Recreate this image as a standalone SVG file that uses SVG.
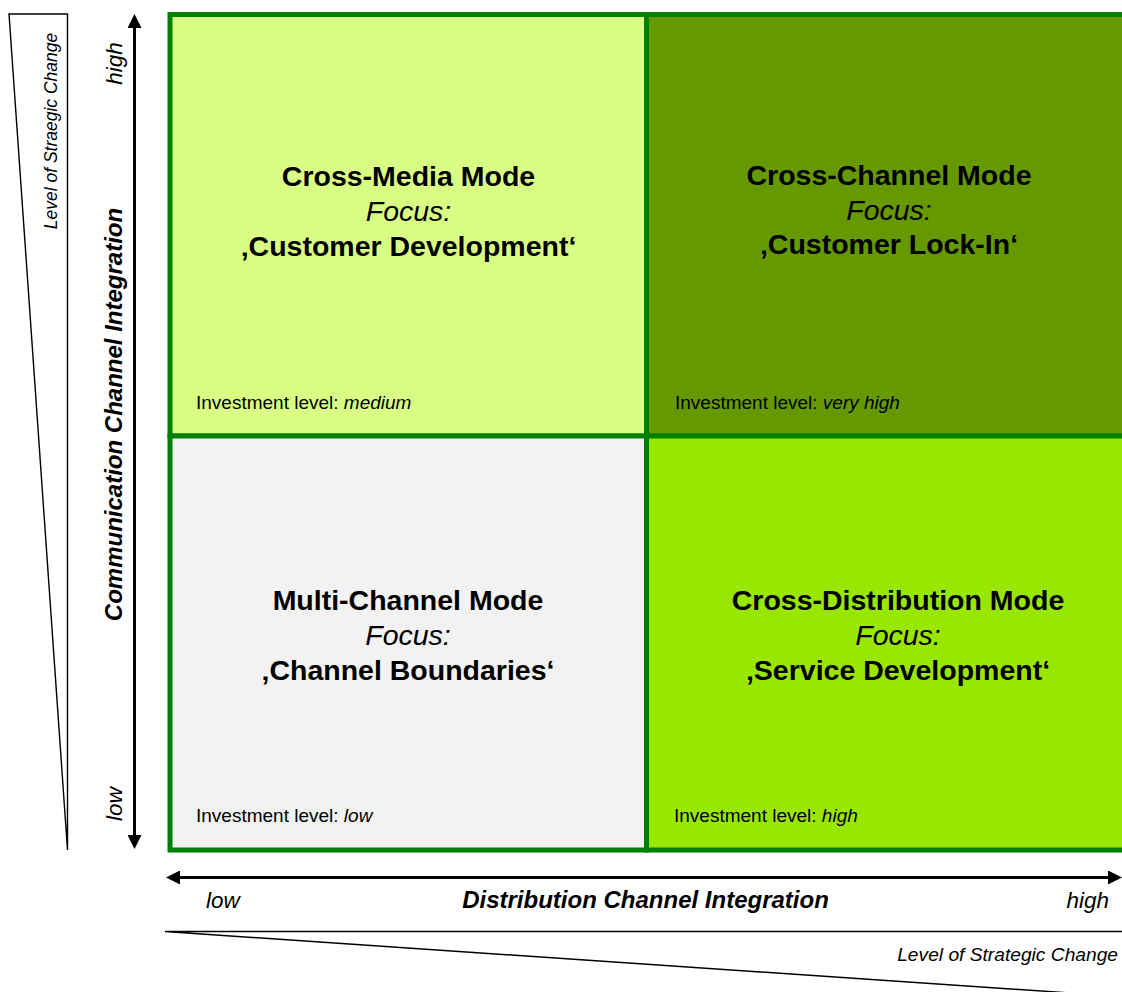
<svg xmlns="http://www.w3.org/2000/svg" width="1122" height="992" viewBox="0 0 1122 992">
  <style>
    text { font-family: "Liberation Sans", Arial, sans-serif; fill: #000; }
    .title { font-size: 28.5px; font-weight: bold; text-anchor: middle; }
    .focus { font-size: 28.5px; font-style: italic; text-anchor: middle; }
    .invest { font-size: 19px; }
    .axis { font-size: 24px; font-weight: bold; font-style: italic; text-anchor: middle; }
    .scale { font-size: 22.5px; font-style: italic; }
    .change { font-size: 17.5px; font-style: italic; }
    .change-h { font-size: 19.2px; font-style: italic; text-anchor: end; }
    .cell { stroke: #008000; stroke-width: 5; }
    .thin { fill: none; stroke: #000; stroke-width: 1.4; }
    .arrow { fill: none; stroke: #000; stroke-width: 3; marker-start: url(#head); marker-end: url(#head); }
  </style>
  <defs>
    <marker id="head" markerUnits="userSpaceOnUse" markerWidth="14" markerHeight="14" refX="4" refY="7" orient="auto-start-reverse">
      <path d="M0,0 L14,7 L0,14 z" fill="#000"/>
    </marker>
  </defs>

  <rect width="1122" height="992" fill="#fff"/>

  <!-- quadrants -->
  <g id="cross-media">
    <rect class="cell" x="170" y="14.5" width="476.5" height="421.5" fill="#d8ff84"/>
    <text class="title" x="408.5" y="186">Cross-Media Mode</text>
    <text class="focus" x="408.5" y="221">Focus:</text>
    <text class="title" x="408.5" y="256">‚Customer Development‘</text>
    <text class="invest" x="196" y="409">Investment level: <tspan font-style="italic">medium</tspan></text>
  </g>
  <g id="cross-channel">
    <rect class="cell" x="646.5" y="14.5" width="490" height="421.5" fill="#669900"/>
    <text class="title" x="889" y="185">Cross-Channel Mode</text>
    <text class="focus" x="889" y="220">Focus:</text>
    <text class="title" x="889" y="254">‚Customer Lock-In‘</text>
    <text class="invest" x="675" y="409">Investment level: <tspan font-style="italic">very high</tspan></text>
  </g>
  <g id="multi-channel">
    <rect class="cell" x="170" y="436" width="476.5" height="414" fill="#f2f2f2"/>
    <text class="title" x="408" y="610">Multi-Channel Mode</text>
    <text class="focus" x="408" y="645">Focus:</text>
    <text class="title" x="408" y="680">‚Channel Boundaries‘</text>
    <text class="invest" x="196" y="822">Investment level: <tspan font-style="italic">low</tspan></text>
  </g>
  <g id="cross-distribution">
    <rect class="cell" x="646.5" y="436" width="490" height="414" fill="#99e600"/>
    <text class="title" x="898" y="610">Cross-Distribution Mode</text>
    <text class="focus" x="898" y="645">Focus:</text>
    <text class="title" x="898" y="680">‚Service Development‘</text>
    <text class="invest" x="674" y="822">Investment level: <tspan font-style="italic">high</tspan></text>
  </g>

  <!-- axes and strategic-change wedges -->
  <g id="connectors">
    <line class="arrow" x1="134.5" y1="24" x2="134.5" y2="839"/>
    <line class="arrow" x1="176" y1="877.5" x2="1112" y2="877.5"/>
    <path class="thin" d="M9,14 L67.5,14 L67.5,850 Z"/>
    <path class="thin" d="M1122,931.5 L165,931.5 L1122,996.5"/>
  </g>

  <g id="axis-labels">
    <text class="axis" transform="translate(122,414.5) rotate(-90)">Communication Channel Integration</text>
    <text class="scale" text-anchor="middle" transform="translate(121.5,63.5) rotate(-90)">high</text>
    <text class="scale" text-anchor="middle" transform="translate(121.5,804) rotate(-90)">low</text>
    <text class="change" text-anchor="middle" transform="translate(57,131) rotate(-90)">Level of Straegic Change</text>
    <text class="axis" x="645.5" y="908">Distribution Channel Integration</text>
    <text class="scale" x="206" y="908">low</text>
    <text class="scale" x="1109" y="908" text-anchor="end">high</text>
    <text class="change-h" x="1118" y="961">Level of Strategic Change</text>
  </g>
</svg>
